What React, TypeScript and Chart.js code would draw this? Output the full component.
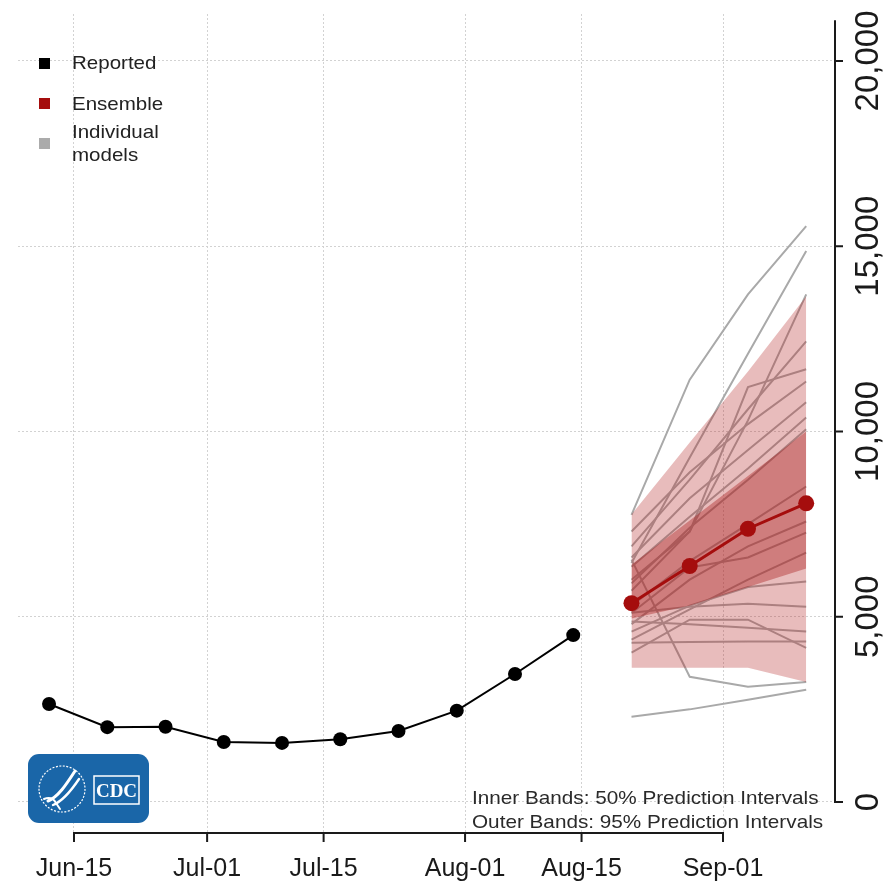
import React, { useEffect, useRef } from "react";
import { Chart, registerables } from "chart.js";

Chart.register(...registerables);

// ---------------- data ----------------
const reportedDates = [
  "2021-06-12", "2021-06-19", "2021-06-26", "2021-07-03", "2021-07-10",
  "2021-07-17", "2021-07-24", "2021-07-31", "2021-08-07", "2021-08-14",
];
const reportedValues = [2645, 2020, 2030, 1620, 1595, 1695, 1915, 2465, 3455, 4505];

const forecastDates = ["2021-08-21", "2021-08-28", "2021-09-04", "2021-09-11"];
const ensembleValues = [5365, 6370, 7375, 8060];
const pi95Upper = [7760, 9700, 11620, 13650];
const pi95Lower = [3620, 3620, 3620, 3240];
const pi50Upper = [6400, 7600, 8800, 10000];
const pi50Lower = [4950, 5300, 5800, 6300];

const model01 = [7750, 11400, 13700, 15540];
const model02 = [6450, 9300, 12100, 14870];
const model03 = [5700, 7300, 10300, 13700];
const model04 = [6900, 8700, 10600, 12430];
const model05 = [6000, 7300, 11200, 11680];
const model06 = [7300, 8900, 10200, 11350];
const model07 = [6600, 8200, 9500, 10790];
const model08 = [6350, 7700, 9000, 10380];
const model09 = [5900, 7400, 8700, 10060];
const model10 = [5300, 6500, 7500, 8515];
const model11 = [5100, 6330, 6600, 7270];
const model12 = [4800, 6000, 6900, 7570];
const model13 = [4380, 5200, 6000, 6730];
const model14 = [4600, 5300, 5800, 5950];
const model15 = [5110, 5270, 5350, 5270];
const model16 = [4870, 4800, 4700, 4600];
const model17 = [4300, 4320, 4330, 4330];
const model18 = [4030, 4920, 4920, 4160];
const model19 = [6540, 3380, 3110, 3240];
const model20 = [2300, 2500, 2760, 3030];
const individualModels = [
  model01, model02, model03, model04, model05, model06, model07, model08, model09, model10,
  model11, model12, model13, model14, model15, model16, model17, model18, model19, model20,
];

const xTickDates = ["2021-06-15", "2021-07-01", "2021-07-15", "2021-08-01", "2021-08-15", "2021-09-01"];
const xTickLabels = ["Jun-15", "Jul-01", "Jul-15", "Aug-01", "Aug-15", "Sep-01"];
const yTickValues = [0, 5000, 10000, 15000, 20000];

// ---------------- helpers ----------------
const ORIGIN = Date.parse("2021-06-15");
const dayOf = (d: string) => (Date.parse(d) - ORIGIN) / 86400000;
const toPoints = (dates: string[], vals: number[]) => dates.map((d, i) => ({ x: dayOf(d), y: vals[i] }));
const xTickDays = xTickDates.map(dayOf);

const FONT = "'Liberation Sans', Arial, Helvetica, sans-serif";

const axisLinesPlugin = {
  id: "axisLines",
  afterDraw(chart: any) {
    const { ctx, chartArea, scales } = chart;
    const x = scales.x;
    const y = scales.y;
    ctx.save();
    ctx.strokeStyle = "#1a1a1a";
    ctx.lineWidth = 2;
    ctx.lineCap = "butt";
    const yb = chartArea.bottom;
    ctx.beginPath();
    ctx.moveTo(x.getPixelForValue(xTickDays[0]) - 1, yb);
    ctx.lineTo(x.getPixelForValue(xTickDays[xTickDays.length - 1]) + 1, yb);
    xTickDays.forEach((d) => {
      const px = x.getPixelForValue(d);
      ctx.moveTo(px, yb);
      ctx.lineTo(px, yb + 9);
    });
    const xr = chartArea.right;
    ctx.moveTo(xr, y.getPixelForValue(0) + 1);
    ctx.lineTo(xr, y.getPixelForValue(21100));
    yTickValues.forEach((v) => {
      const py = y.getPixelForValue(v);
      ctx.moveTo(xr, py);
      ctx.lineTo(xr + 8, py);
    });
    ctx.stroke();
    ctx.restore();
  },
};

export default function App() {
  const canvasRef = useRef<HTMLCanvasElement | null>(null);

  useEffect(() => {
    if (!canvasRef.current) return;
    const modelSets = individualModels.map((vals, i) => ({
      label: "model" + (i + 1),
      data: toPoints(forecastDates, vals),
      borderColor: "#a9a9a9",
      borderWidth: 2,
      pointRadius: 0,
      fill: false,
      order: 4,
    }));
    const chart = new Chart(canvasRef.current, {
      type: "line",
      data: {
        datasets: [
          {
            label: "Reported",
            data: toPoints(reportedDates, reportedValues),
            borderColor: "#000",
            backgroundColor: "#000",
            borderWidth: 2,
            pointRadius: 7,
            pointBackgroundColor: "#000",
            pointBorderWidth: 0,
            fill: false,
            order: 1,
          },
          {
            label: "Ensemble",
            data: toPoints(forecastDates, ensembleValues),
            borderColor: "#a50d0d",
            backgroundColor: "#a50d0d",
            borderWidth: 3,
            pointRadius: 8,
            pointBackgroundColor: "#a50d0d",
            pointBorderWidth: 0,
            fill: false,
            order: 1,
          },
          {
            label: "PI95 upper",
            data: toPoints(forecastDates, pi95Upper),
            borderColor: "rgba(0,0,0,0)",
            borderWidth: 0,
            pointRadius: 0,
            backgroundColor: "rgba(178,34,34,0.30)",
            fill: "+1",
            order: 3,
          },
          {
            label: "PI95 lower",
            data: toPoints(forecastDates, pi95Lower),
            borderColor: "rgba(0,0,0,0)",
            borderWidth: 0,
            pointRadius: 0,
            fill: false,
            order: 3,
          },
          {
            label: "PI50 upper",
            data: toPoints(forecastDates, pi50Upper),
            borderColor: "rgba(0,0,0,0)",
            borderWidth: 0,
            pointRadius: 0,
            backgroundColor: "rgba(170,30,30,0.40)",
            fill: "+1",
            order: 2,
          },
          {
            label: "PI50 lower",
            data: toPoints(forecastDates, pi50Lower),
            borderColor: "rgba(0,0,0,0)",
            borderWidth: 0,
            pointRadius: 0,
            fill: false,
            order: 2,
          },
          ...modelSets,
        ],
      },
      options: {
        responsive: false,
        animation: false,
        events: [],
        layout: { padding: { top: 14, left: 18, right: 0, bottom: 0 } },
        plugins: { legend: { display: false }, tooltip: { enabled: false } },
        scales: {
          x: {
            type: "linear",
            min: -6.73,
            max: 91.46,
            afterBuildTicks: (scale: any) => {
              scale.ticks = xTickDays.map((v) => ({ value: v }));
            },
            afterFit: (scale: any) => {
              scale.height = 53;
            },
            grid: { color: "#d2d2d2", lineWidth: 1, drawTicks: false },
            border: { display: false, dash: [2, 2] },
            ticks: {
              autoSkip: false,
              maxRotation: 0,
              minRotation: 0,
              padding: 21,
              color: "#1a1a1a",
              font: { family: FONT, size: 25 },
              callback: (_v: any, i: number) => xTickLabels[i],
            },
          },
          y: {
            type: "linear",
            position: "right",
            min: -837,
            max: 21268,
            afterBuildTicks: (scale: any) => {
              scale.ticks = yTickValues.map((v) => ({ value: v }));
            },
            afterFit: (scale: any) => {
              scale.width = 54;
            },
            grid: { color: "#d2d2d2", lineWidth: 1, drawTicks: false },
            border: { display: false, dash: [2, 2] },
            ticks: {
              autoSkip: false,
              minRotation: 90,
              maxRotation: 90,
              crossAlign: "center",
              padding: -16.5,
              color: "#1a1a1a",
              font: { family: FONT, size: 33 },
              callback: (v: any) => Number(v).toLocaleString("en-US"),
            },
          },
        },
      },
      plugins: [axisLinesPlugin],
    } as any);
    return () => chart.destroy();
  }, []);

  const legendText: React.CSSProperties = {
    position: "absolute",
    left: 72,
    fontFamily: FONT,
    fontSize: 19,
    color: "#222",
    lineHeight: "23px",
    transform: "scaleX(1.08)",
    transformOrigin: "left center",
    whiteSpace: "nowrap",
  };
  const square = (top: number, color: string): React.CSSProperties => ({
    position: "absolute",
    left: 39,
    top,
    width: 11,
    height: 11,
    background: color,
  });
  const noteText: React.CSSProperties = {
    position: "absolute",
    left: 472,
    fontFamily: FONT,
    fontSize: 19,
    color: "#2a2a2a",
    lineHeight: "24px",
    transform: "scaleX(1.09)",
    transformOrigin: "left center",
    whiteSpace: "nowrap",
  };

  return (
    <div style={{ position: "fixed", left: 0, top: 0, width: 889, height: 886, background: "#fff", overflow: "hidden" }}>
      <canvas ref={canvasRef} width={889} height={886} style={{ position: "absolute", left: 0, top: 0, width: 889, height: 886 }} />
      <div style={square(58, "#000")} />
      <div style={{ ...legendText, top: 51 }}>Reported</div>
      <div style={square(98, "#a50d0d")} />
      <div style={{ ...legendText, top: 92 }}>Ensemble</div>
      <div style={square(138, "#ababab")} />
      <div style={{ ...legendText, top: 120 }}>
        Individual
        <br />
        models
      </div>
      <div style={{ ...noteText, top: 786 }}>Inner Bands: 50% Prediction Intervals</div>
      <div style={{ ...noteText, top: 810 }}>Outer Bands: 95% Prediction Intervals</div>
      <svg style={{ position: "absolute", left: 28, top: 754 }} width={121} height={69} viewBox="0 0 121 69">
        <rect x={0} y={0} width={121} height={69} rx={11} fill="#1a66a8" />
        <circle cx={34} cy={35} r={23} fill="none" stroke="#fff" strokeWidth={1.2} strokeDasharray="2 1.5" />
        <path d="M20 47 C 30 43, 38 31, 47 17" fill="none" stroke="#fff" strokeWidth={3} strokeLinecap="round" />
        <path d="M25 51 C 35 47, 43 37, 51 25" fill="none" stroke="#fff" strokeWidth={2.4} strokeLinecap="round" />
        <path d="M16 45 Q 24 42 28 49 L 32 55" fill="none" stroke="#fff" strokeWidth={2} strokeLinecap="round" />
        <rect x={66} y={22} width={45} height={28} fill="none" stroke="#fff" strokeWidth={1.5} />
        <text x={88.5} y={43} textAnchor="middle" fill="#fff" fontFamily="'Liberation Serif', serif" fontWeight="bold" fontSize={19}>
          CDC
        </text>
      </svg>
    </div>
  );
}
